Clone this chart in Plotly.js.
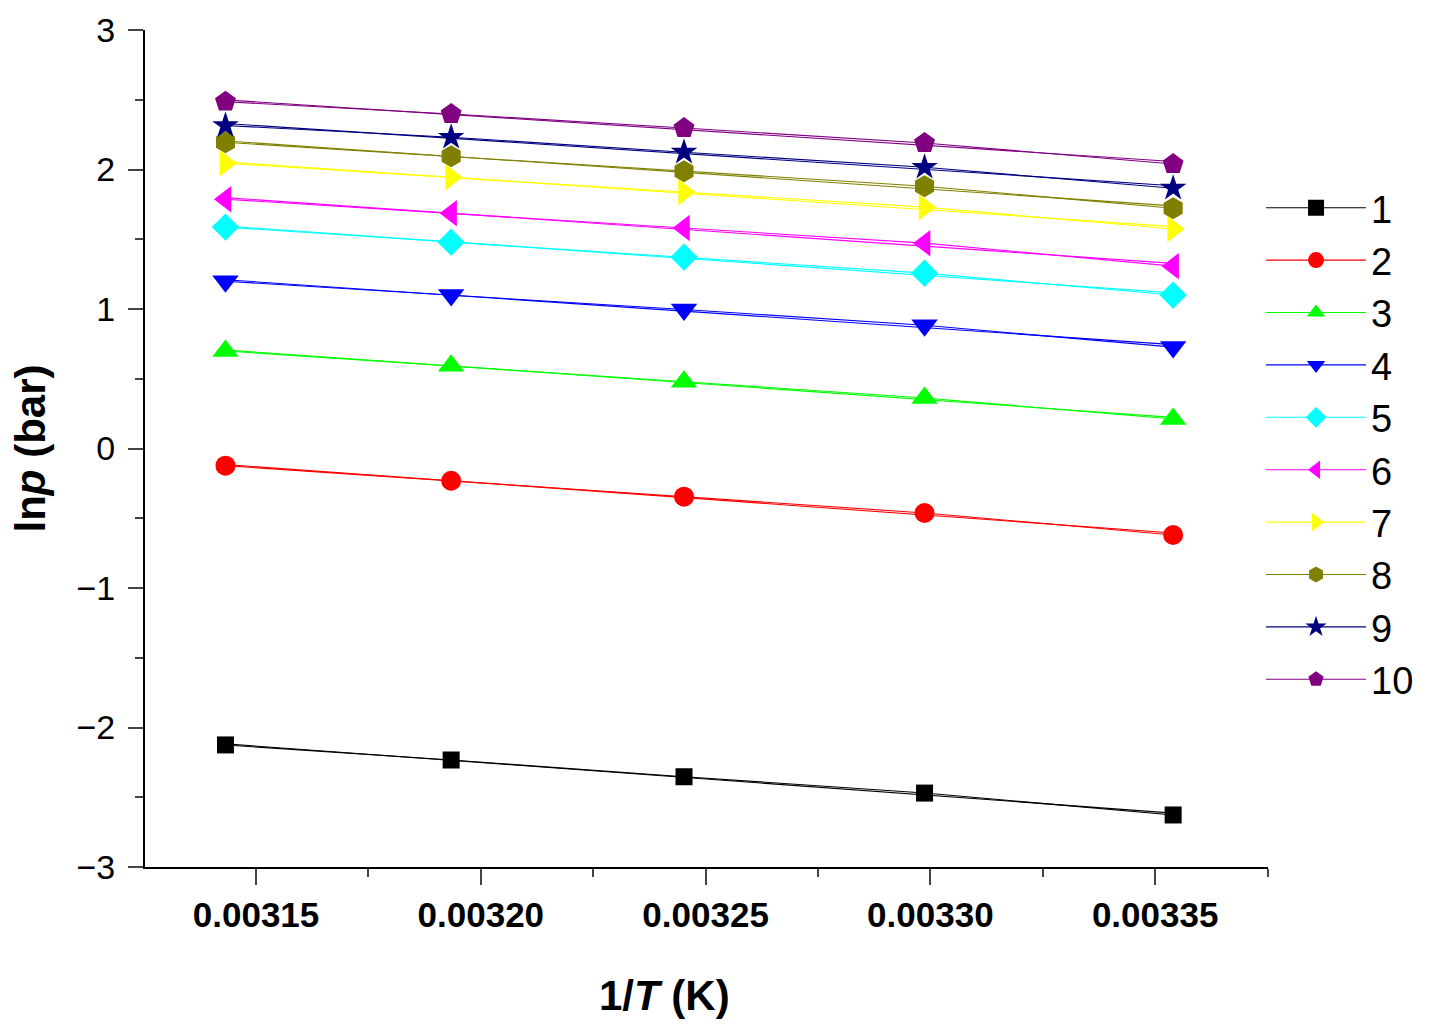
<!DOCTYPE html>
<html>
<head>
<meta charset="utf-8">
<script src="https://cdn.plot.ly/plotly-3.0.1.min.js"></script>
<style>
  html, body { margin: 0; padding: 0; background: #fff; }
  #chart { width: 1436px; height: 1031px; }
</style>
</head>
<body>
<div id="chart"></div>
<script>
// 1/T values (K^-1), 318.15 ... 298.15 K
var invT = [0.0031432, 0.0031934, 0.0032452, 0.0032987, 0.0033540];

var names = ['1', '2', '3', '4', '5', '6', '7', '8', '9', '10'];
var s1 = [-2.125, -2.233, -2.353, -2.470, -2.627];
var s2 = [-0.123, -0.231, -0.345, -0.462, -0.620];
var s3 = [0.699, 0.593, 0.479, 0.362, 0.211];
var s4 = [1.199, 1.100, 0.996, 0.883, 0.727];
var s5 = [1.587, 1.479, 1.372, 1.257, 1.100];
var s6 = [1.787, 1.687, 1.580, 1.472, 1.307];
var s7 = [2.045, 1.945, 1.838, 1.730, 1.573];
var s8 = [2.195, 2.095, 1.987, 1.880, 1.722];
var s9 = [2.315, 2.231, 2.124, 2.016, 1.866];
var s10 = [2.486, 2.398, 2.297, 2.190, 2.039];
var series = [s1, s2, s3, s4, s5, s6, s7, s8, s9, s10];

var colors = ['#000000', '#FF0000', '#00FF00', '#0000FF', '#00FFFF',
              '#FF00FF', '#FFFF00', '#808000', '#000080', '#800080'];
var symbols = ['square', 'circle', 'triangle-up', 'triangle-down', 'diamond',
               'triangle-left', 'triangle-right', 'hexagon', 'star', 'pentagon'];
var sizes = [17, 20, 23, 23, 21, 23, 23, 22, 20, 22];

// least squares line through each series (the linear fits in the figure)
function fitLine(x, y) {
  var n = x.length, sx = 0, sy = 0, sxx = 0, sxy = 0;
  for (var i = 0; i < n; i++) { sx += x[i]; sy += y[i]; sxx += x[i] * x[i]; sxy += x[i] * y[i]; }
  var b = (n * sxy - sx * sy) / (n * sxx - sx * sx);
  var a = (sy - b * sx) / n;
  return [a + b * x[0], a + b * x[n - 1]];
}

var traces = [];
series.forEach(function (ys, i) {
  traces.push({
    x: [invT[0], invT[invT.length - 1]], y: fitLine(invT, ys),
    type: 'scatter', mode: 'lines', showlegend: false, hoverinfo: 'skip',
    line: { color: colors[i], width: 1.1 }, legendgroup: 'g' + i
  });
  traces.push({
    x: invT, y: ys, name: names[i], type: 'scatter', mode: 'lines+markers',
    legendgroup: 'g' + i,
    line: { color: colors[i], width: 1.1 },
    marker: { symbol: symbols[i], size: sizes[i], color: colors[i], line: { width: 0 } }
  });
});

var font = 'Arial, "Liberation Sans", sans-serif';
var layout = {
  width: 1436, height: 1031,
  margin: { l: 145, r: 168, t: 30, b: 164 },
  paper_bgcolor: '#ffffff', plot_bgcolor: '#ffffff',
  font: { family: font, color: '#000' },
  showlegend: true,
  legend: {
    x: 0.9938, y: 0.825, xanchor: 'left', yanchor: 'top',
    font: { size: 38, family: font }, tracegroupgap: 0, itemwidth: 100,
    bgcolor: 'rgba(0,0,0,0)'
  },
  xaxis: {
    range: [0.0031253, 0.0033751], tick0: 0.00315, dtick: 0.00005,
    tickformat: '.5f', ticks: 'outside', ticklen: 16, tickwidth: 2,
    showline: true, linewidth: 2, linecolor: '#000', showgrid: false, zeroline: false,
    tickfont: { size: 35, weight: 'bold', family: font },
    minor: { dtick: 0.000025, tick0: 0.00315, ticks: 'outside', ticklen: 8, tickwidth: 2, showgrid: false }
  },
  yaxis: {
    range: [-3, 3], dtick: 1, ticks: 'outside', ticklen: 15, tickwidth: 2,
    showline: true, linewidth: 2, linecolor: '#000', showgrid: false, zeroline: false,
    tickfont: { size: 34, family: font }, ticklabelstandoff: 6,
    minor: { dtick: 0.5, ticks: 'outside', ticklen: 8, tickwidth: 2, showgrid: false },
    title: { text: 'ln<i>p</i> (bar)', font: { size: 42, weight: 'bold', family: font }, standoff: 18 }
  },
  annotations: [{
    text: '1/<i>T</i> (K)', xref: 'paper', yref: 'paper', x: 0.463, y: -0.153,
    xanchor: 'center', yanchor: 'middle', showarrow: false,
    font: { size: 42, weight: 'bold', family: font }
  }]
};

Plotly.newPlot('chart', traces, layout, { displayModeBar: false, staticPlot: true });
</script>
</body>
</html>
